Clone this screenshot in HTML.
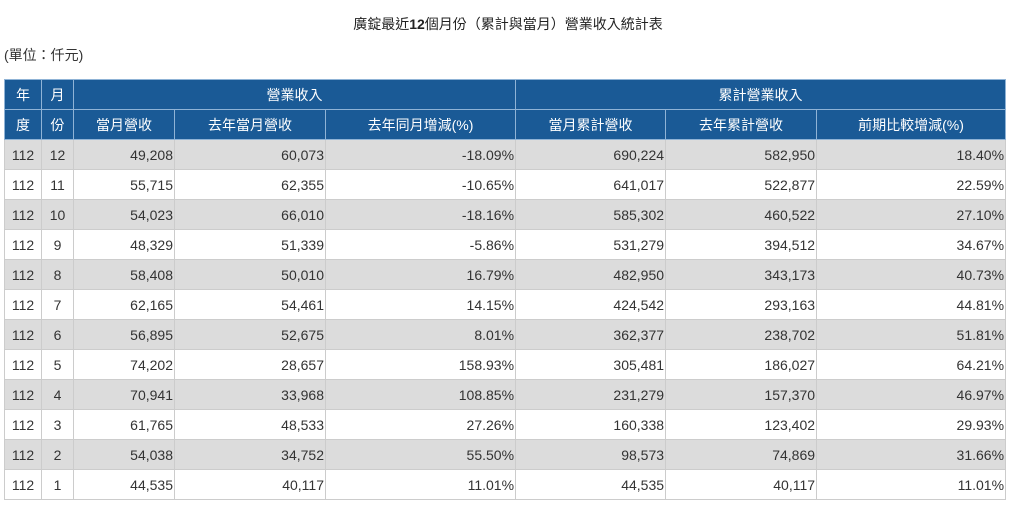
<!DOCTYPE html>
<html><head><meta charset="utf-8">
<style>
body{margin:0;width:1016px;height:505px;background:#fff;font-family:"Liberation Sans","Noto Sans CJK TC",sans-serif;color:#333;position:relative;overflow:hidden}
.title{position:absolute;top:14px;left:0;width:1016px;text-align:center;font-size:14px;color:#222}
.title b{font-weight:bold}
.unit{position:absolute;top:45px;left:4px;font-size:14px}
table{position:absolute;left:4px;top:79px;border-collapse:collapse;table-layout:fixed;width:1001px;font-size:14px}
td,th{height:29px;padding:0 1px;border:1px solid #ccc;white-space:nowrap}
th{background:#1a5a96;color:#fff;font-weight:normal;border-color:#8fb3d6;text-align:center}
td{text-align:right}
td.c{text-align:center}
tr.g td{background:#dcdcdc}
</style></head><body>
<div class="title">廣錠最近<b>12</b>個月份（累計與當月）營業收入統計表</div>
<div class="unit">(單位：仟元)</div>
<table>
<colgroup><col style="width:37px"><col style="width:32px"><col style="width:101px"><col style="width:151px"><col style="width:190px"><col style="width:150px"><col style="width:151px"><col style="width:189px"></colgroup>
<thead>
<tr><th>年</th><th>月</th><th colspan="3">營業收入</th><th colspan="3">累計營業收入</th></tr>
<tr><th>度</th><th>份</th><th>當月營收</th><th>去年當月營收</th><th>去年同月增減(%)</th><th>當月累計營收</th><th>去年累計營收</th><th>前期比較增減(%)</th></tr>
</thead>
<tbody id="tb"></tbody>
</table>
<script>
const months=[12,11,10,9,8,7,6,5,4,3,2,1];
const monthly=["49,208","55,715","54,023","48,329","58,408","62,165","56,895","74,202","70,941","61,765","54,038","44,535"];
const lastMonthly=["60,073","62,355","66,010","51,339","50,010","54,461","52,675","28,657","33,968","48,533","34,752","40,117"];
const yoy=["-18.09%","-10.65%","-18.16%","-5.86%","16.79%","14.15%","8.01%","158.93%","108.85%","27.26%","55.50%","11.01%"];
const cum=["690,224","641,017","585,302","531,279","482,950","424,542","362,377","305,481","231,279","160,338","98,573","44,535"];
const lastCum=["582,950","522,877","460,522","394,512","343,173","293,163","238,702","186,027","157,370","123,402","74,869","40,117"];
const cumChg=["18.40%","22.59%","27.10%","34.67%","40.73%","44.81%","51.81%","64.21%","46.97%","29.93%","31.66%","11.01%"];
const tb=document.getElementById('tb');
months.forEach((m,i)=>{
  const tr=document.createElement('tr');
  
  
  if(i%2===0)tr.className='g';
  const vals=["112",m,monthly[i],lastMonthly[i],yoy[i],cum[i],lastCum[i],cumChg[i]];
  const names=["year","month","monthly-revenue","last-year-monthly","yoy-change","cumulative-revenue","last-year-cumulative","cumulative-change"];
  vals.forEach((v,j)=>{
    const td=document.createElement('td');
    
    
    if(j<2)td.className='c';
    td.textContent=v;
    tr.appendChild(td);
  });
  tb.appendChild(tr);
});
</script>
</body></html>
